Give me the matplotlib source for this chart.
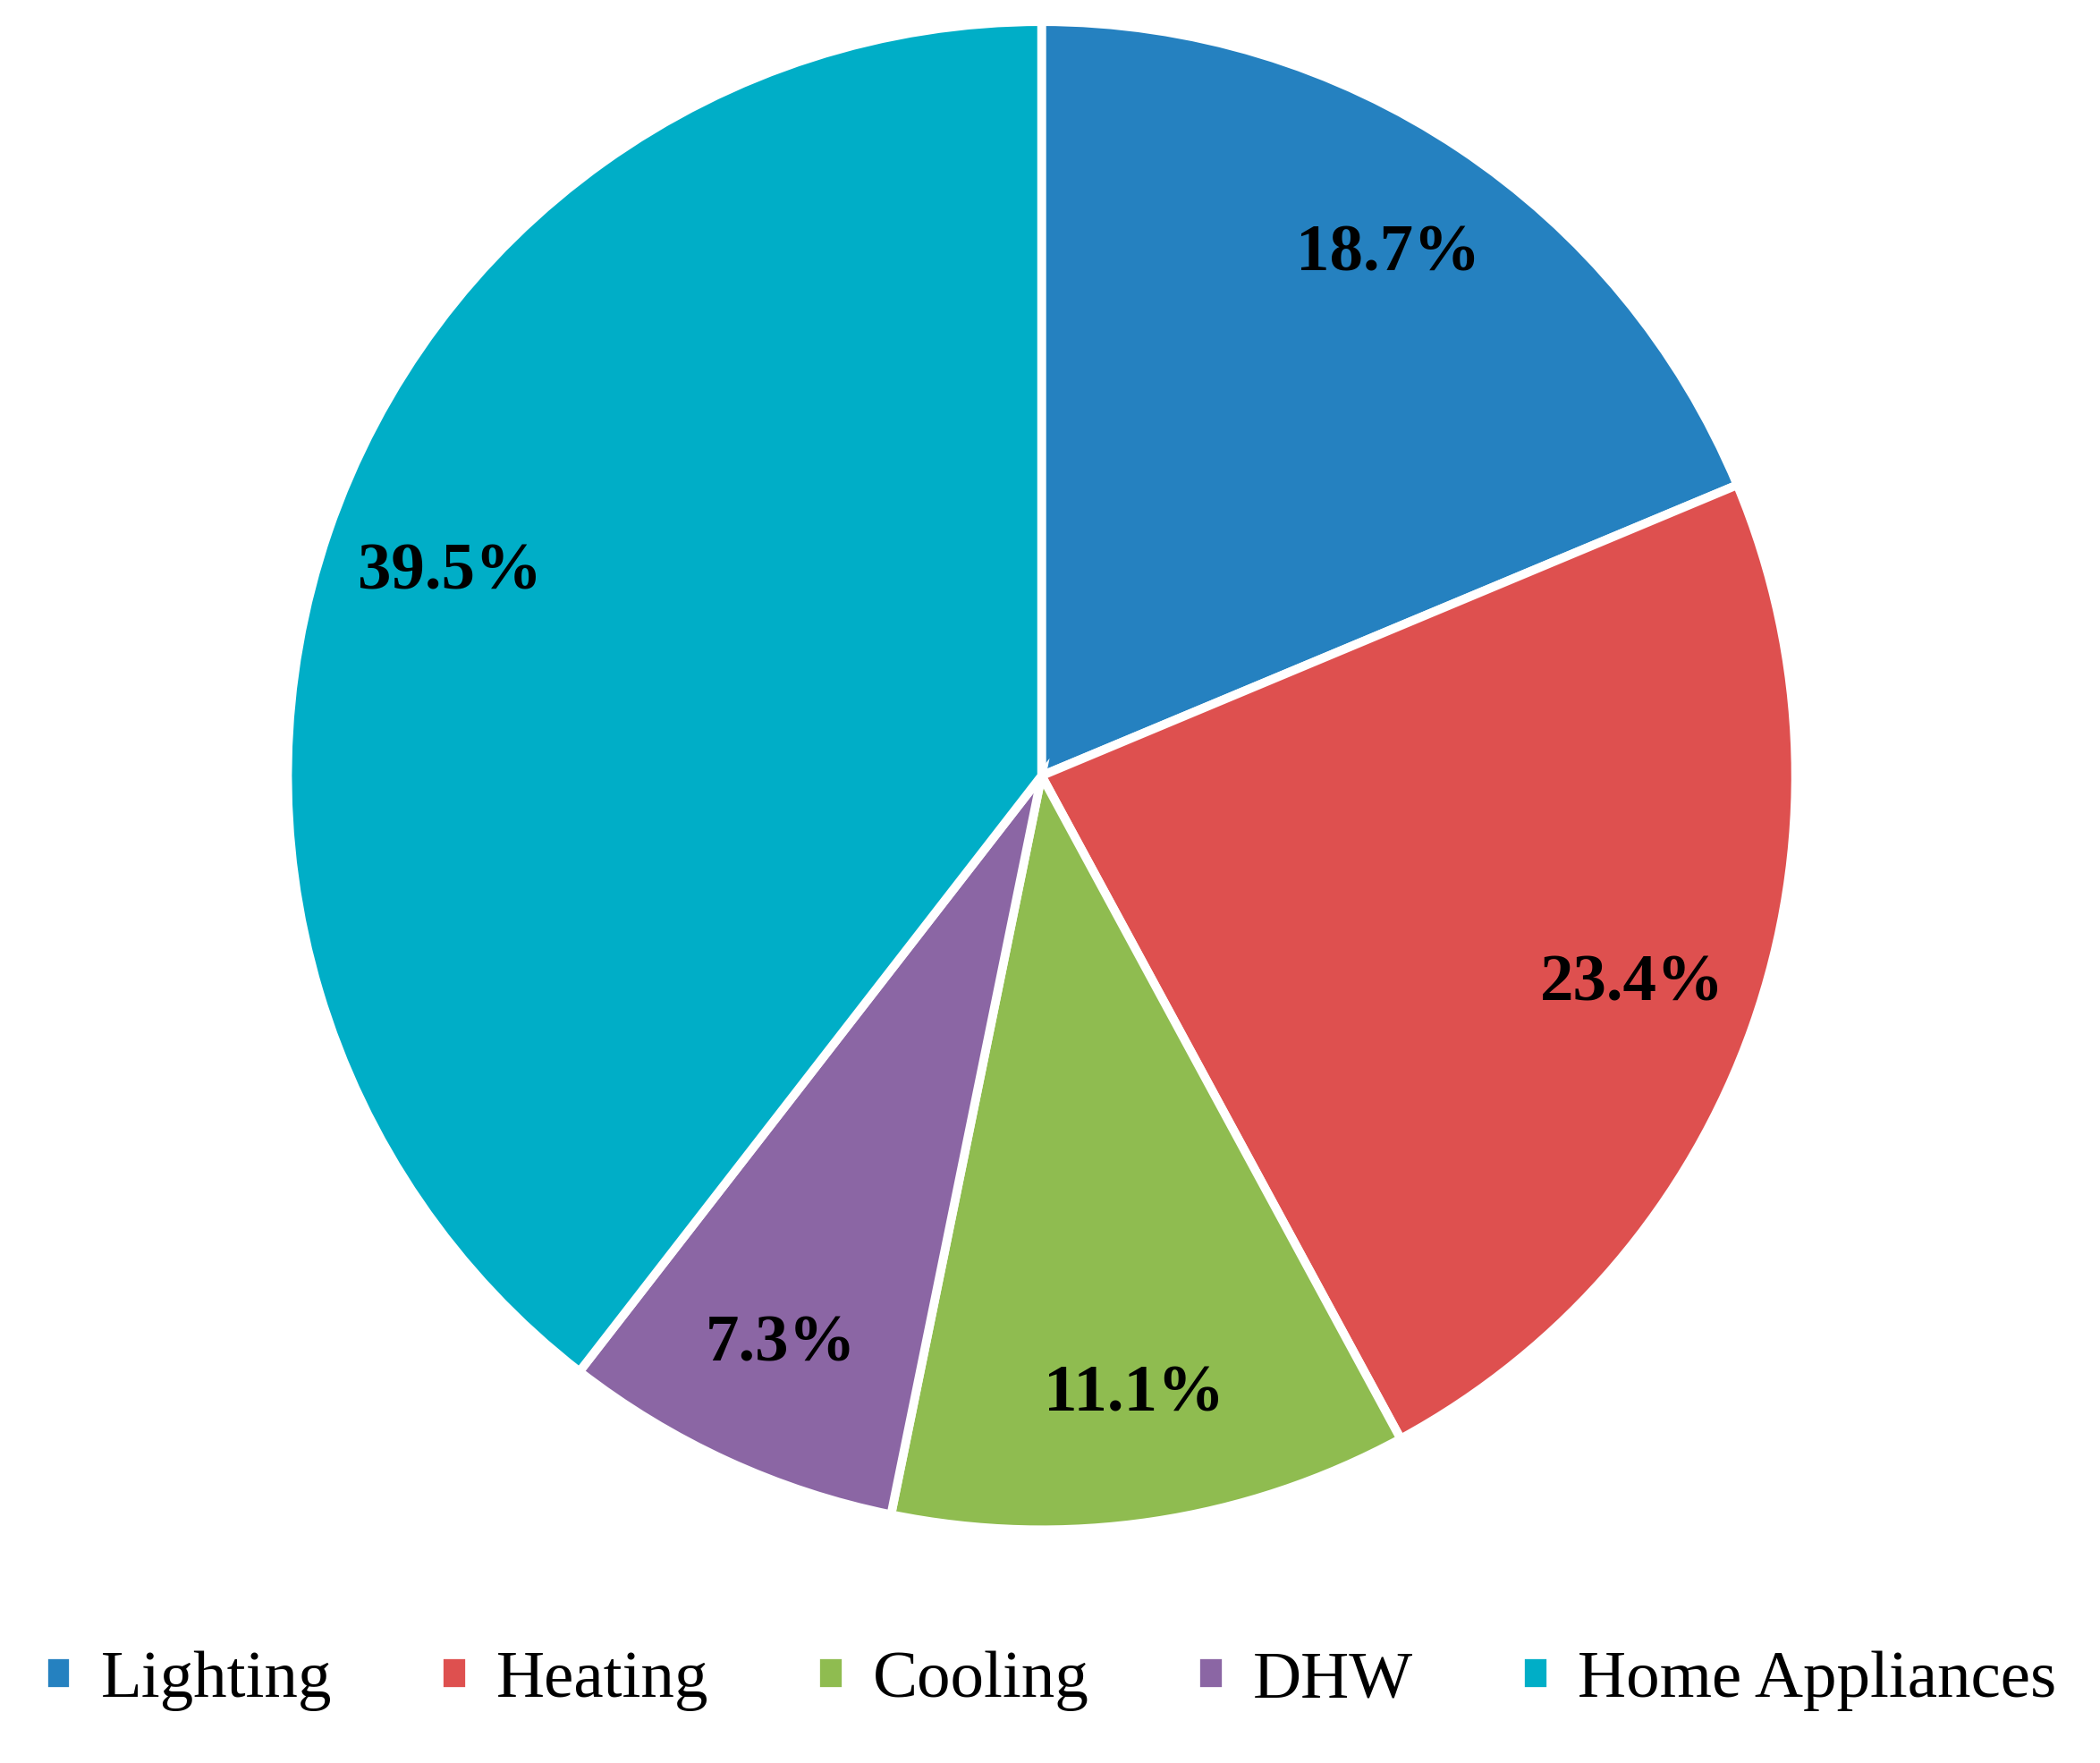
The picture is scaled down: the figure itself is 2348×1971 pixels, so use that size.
import matplotlib.pyplot as plt

# Data
categories = ["Lighting", "Heating", "Cooling", "DHW", "Home Appliances"]
shares = [18.7, 23.4, 11.1, 7.3, 39.5]
colors = ["#2581C0", "#DE504F", "#8FBC50", "#8B66A4", "#00AEC7"]

plt.rcParams['font.family'] = ['Liberation Serif', 'DejaVu Serif']

fig = plt.figure(figsize=(23.48, 19.71), dpi=100)
# pie area: centre ~ (0.496, 0.56), radius ~0.432 of height
r_h = 0.432
r_w = r_h * 19.71 / 23.48
ax = fig.add_axes([0.496 - r_w, 0.56 - r_h, 2 * r_w, 2 * r_h])

wedges, texts, autotexts = ax.pie(
    shares, colors=colors, startangle=90, counterclock=False,
    autopct=lambda p: f"{p:.1f}%", pctdistance=0.83,
    wedgeprops=dict(edgecolor="white", linewidth=7),
    textprops=dict(fontsize=54, fontweight="bold", color="black"))
ax.set_xlim(-1.01, 1.01)
ax.set_ylim(-1.01, 1.01)
ax.set_aspect("equal")

fig.legend(wedges, categories, loc="lower center", bbox_to_anchor=(0.5, -0.005),
           ncol=5, frameon=False, fontsize=54, handlelength=0.45, handleheight=0.45,
           handletextpad=0.4, columnspacing=1.6)

plt.savefig("out.png", dpi=100)
